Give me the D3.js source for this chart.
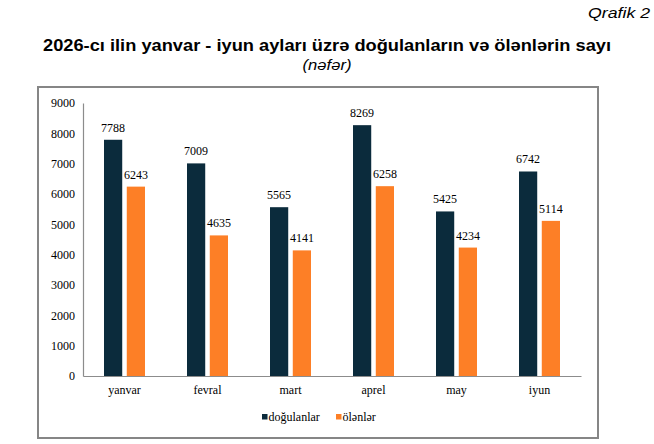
<!DOCTYPE html>
<html>
<head>
<meta charset="utf-8">
<script src="https://cdn.jsdelivr.net/npm/d3@7"></script>
<style>
html,body{margin:0;padding:0;background:#fff;}
svg{display:block;}
</style>
</head>
<body>
<svg id="chart" width="654" height="444"></svg>
<script>
const months = ["yanvar", "fevral", "mart", "aprel", "may", "iyun"];
const seriesNames = ["doğulanlar", "ölənlər"];
const births = [7788, 7009, 5565, 8269, 5425, 6742];
const deaths = [6243, 4635, 4141, 6258, 4234, 5114];
const yTicks = [0, 1000, 2000, 3000, 4000, 5000, 6000, 7000, 8000, 9000];
const colors = ["#0b2b3c", "#fd7f26"];

const seriesValues = [births, deaths];
const svg = d3.select("#chart");
const serif = "'Liberation Serif','Times New Roman',serif";
const sans = "'Liberation Sans',Arial,sans-serif";

// Header texts
svg.append("text").attr("x", 650).attr("y", 18).attr("text-anchor", "end")
  .attr("textLength", 62).attr("lengthAdjust", "spacingAndGlyphs")
  .style("font-family", sans).style("font-style", "italic").style("font-size", "15px")
  .text("Qrafik 2");
svg.append("text").attr("x", 327).attr("y", 51).attr("text-anchor", "middle")
  .attr("textLength", 568).attr("lengthAdjust", "spacingAndGlyphs")
  .style("font-family", sans).style("font-weight", "bold").style("font-size", "17px")
  .text("2026-cı ilin yanvar - iyun ayları üzrə doğulanların və ölənlərin sayı");
svg.append("text").attr("x", 327).attr("y", 70).attr("text-anchor", "middle")
  .attr("textLength", 49).attr("lengthAdjust", "spacingAndGlyphs")
  .style("font-family", sans).style("font-style", "italic").style("font-size", "14.5px")
  .text("(nəfər)");

// Frame
svg.append("rect").attr("x", 38).attr("y", 87).attr("width", 560).attr("height", 351)
  .attr("fill", "none").attr("stroke", "#868686").attr("stroke-width", 2);

const plotLeft = 83, plotRight = 581, plotTop = 103, plotBottom = 376;
const y = d3.scaleLinear().domain([0, 9000]).range([plotBottom, plotTop]);
const x0 = d3.scaleBand().domain(months).range([plotLeft, plotRight]).paddingInner(0.506).paddingOuter(0.253);
const x1 = d3.scaleBand().domain(seriesNames).range([0, x0.bandwidth()]).paddingInner(0.2);

// Y axis
const yAxis = d3.axisLeft(y).tickValues(yTicks).tickSize(0).tickPadding(8).tickFormat(d3.format("d"));
const gy = svg.append("g").attr("transform", `translate(${plotLeft},0)`).call(yAxis);
gy.attr("font-family", null).attr("font-size", null);
gy.select(".domain").attr("stroke", "#8c8c8c").attr("stroke-width", 1.2);
gy.selectAll("text").style("font-family", serif).style("font-size", "12px").attr("fill", "#000");

// Bars
const g = svg.append("g");
seriesNames.forEach((s, si) => {
  g.selectAll(".bar" + si).data(months).enter().append("rect")
    .attr("x", m => x0(m) + x1(s))
    .attr("width", x1.bandwidth())
    .attr("y", (m, i) => y(seriesValues[si][i]))
    .attr("height", (m, i) => plotBottom - y(seriesValues[si][i]))
    .attr("fill", colors[si]);
  g.selectAll(".lab" + si).data(months).enter().append("text")
    .attr("x", m => x0(m) + x1(s) + x1.bandwidth() / 2)
    .attr("y", (m, i) => y(seriesValues[si][i]) - 8)
    .attr("text-anchor", "middle")
    .style("font-family", serif).style("font-size", "12px").attr("fill", "#000")
    .text((m, i) => seriesValues[si][i]);
});

// X axis
const xAxis = d3.axisBottom(x0).tickSize(0).tickPadding(9);
const gx = svg.append("g").attr("transform", `translate(0,${plotBottom})`).call(xAxis);
gx.attr("font-family", null).attr("font-size", null);
gx.select(".domain").attr("stroke", "#8c8c8c").attr("stroke-width", 1.2);
gx.selectAll("text").style("font-family", serif).style("font-size", "12px").attr("fill", "#000");

// Legend
const legend = svg.append("g");
const legendItems = [{x: 262, name: seriesNames[0]}, {x: 336, name: seriesNames[1]}];
legendItems.forEach((it, i) => {
  legend.append("rect").attr("x", it.x).attr("y", 414).attr("width", 5.5).attr("height", 5.5).attr("fill", colors[i]);
  legend.append("text").attr("x", it.x + 6.5).attr("y", 421)
    .style("font-family", serif).style("font-size", "12px").attr("fill", "#000")
    .text(it.name);
});
</script>
</body>
</html>
